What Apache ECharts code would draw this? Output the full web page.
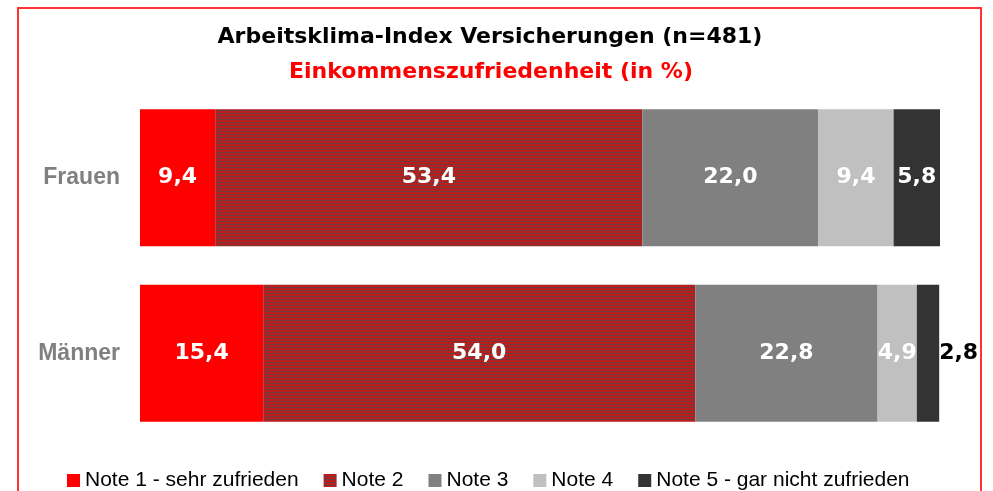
<!DOCTYPE html>
<html>
<head>
<meta charset="utf-8">
<script src="https://cdn.jsdelivr.net/npm/echarts@6/dist/echarts.min.js"></script>
<style>
  html, body { margin: 0; padding: 0; background: #fff; }
  #chart { width: 993px; height: 491px; }
</style>
</head>
<body>
<div id="chart"></div>
<script>
// data
const categories = ["Frauen", "Männer"];
const noteNames = [
  "Note 1 - sehr zufrieden",
  "Note 2",
  "Note 3",
  "Note 4",
  "Note 5 - gar nicht zufrieden",
];
const note1 = [9.4, 15.4];
const note2 = [53.4, 54.0];
const note3 = [22.0, 22.8];
const note4 = [9.4, 4.9];
const note5 = [5.8, 2.8];

// striped fill for note 2
function stripes() {
  const c = document.createElement("canvas");
  c.width = 4;
  c.height = 3;
  const ctx = c.getContext("2d");
  ctx.fillStyle = "#bb1c1c";
  ctx.fillRect(0, 0, 4, 3);
  ctx.fillStyle = "#6e3c3c";
  ctx.fillRect(0, 2, 4, 1);
  return { image: c, repeat: "repeat" };
}

const fmt = (p) => p.value.toFixed(1).replace(".", ",");
const labelStyle = {
  show: true,
  position: "inside",
  color: "#fff",
  fontFamily: "DejaVu Sans",
  fontWeight: "bold",
  fontSize: 22,
  formatter: fmt,
};

function makeSeries(name, data, color) {
  return {
    name: name,
    type: "bar",
    stack: "all",
    barWidth: 137,
    data: data,
    itemStyle: { color: color },
    label: labelStyle,
  };
}

const series = [
  makeSeries(noteNames[0], note1, "#ff0000"),
  makeSeries(noteNames[1], note2, stripes()),
  makeSeries(noteNames[2], note3, "#808080"),
  makeSeries(noteNames[3], note4, "#c0c0c0"),
  makeSeries(noteNames[4], note5, "#333333"),
];
// the thin last bar of Männer carries its label outside, in black
series[4].data = note5.map((v, i) =>
  i === 1
    ? { value: v, label: { position: "right", distance: 0, color: "#000" } }
    : v
);

const myChart = echarts.init(document.getElementById("chart"));
const option = {
  animation: false,
  backgroundColor: "#fff",
  grid: { left: 140, right: 53, top: 90, height: 351 },
  xAxis: { type: "value", min: 0, max: 100, show: false },
  yAxis: {
    type: "category",
    data: categories,
    inverse: true,
    axisLine: { show: false },
    axisTick: { show: false },
    axisLabel: {
      margin: 20,
      color: "#808080",
      fontFamily: "Liberation Sans",
      fontWeight: "bold",
      fontSize: 23,
    },
  },
  legend: {
    left: 67,
    top: 470,
    padding: 0,
    itemWidth: 13,
    itemHeight: 13,
    itemGap: 25,
    icon: "rect",
    textStyle: {
      fontFamily: "Liberation Sans",
      fontSize: 21,
      color: "#000",
    },
    data: noteNames,
  },
  graphic: [
    {
      type: "rect",
      shape: { x: 18, y: 8, width: 963, height: 520 },
      style: { fill: "none", stroke: "#ff3333", lineWidth: 2 },
    },
    {
      type: "text",
      style: {
        x: 490,
        y: 37,
        text: "Arbeitsklima-Index Versicherungen (n=481)",
        align: "center",
        verticalAlign: "middle",
        fill: "#000",
        font: 'bold 22px "DejaVu Sans"',
      },
    },
    {
      type: "text",
      style: {
        x: 491,
        y: 72,
        text: "Einkommenszufriedenheit (in %)",
        align: "center",
        verticalAlign: "middle",
        fill: "#ff0000",
        font: 'bold 22px "DejaVu Sans"',
      },
    },
  ],
  series: series,
};

option && myChart.setOption(option);
</script>
</body>
</html>
